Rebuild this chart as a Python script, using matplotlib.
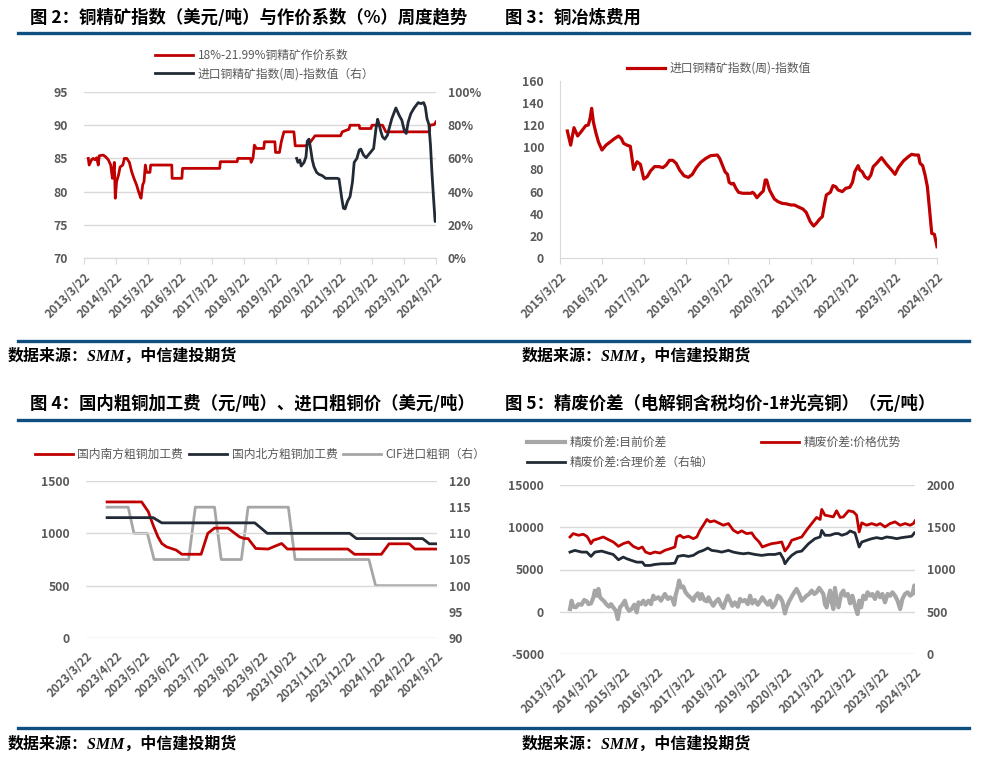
import matplotlib

matplotlib.use("Agg")
import matplotlib.pyplot as plt
import pandas as pd
from matplotlib.lines import Line2D

plt.rcParams["font.family"] = ["Noto Sans CJK SC", "DejaVu Sans"]
plt.rcParams["axes.unicode_minus"] = False

W, H = 994, 766
RED = "#C00000"
NAVY = "#222A35"
GRAY = "#A6A6A6"
GRID = "#D9D9D9"
TICK = "#595959"
RULE = "#0E4F80"

# ---- 图2: 作价系数 (left) / 进口铜精矿指数 (right, %) ----
coef_dates = ["2013-05-10", "2013-05-20", "2013-06-17", "2013-07-05", "2013-07-24", "2013-08-14",
              "2013-09-01", "2013-09-12", "2013-10-28", "2013-11-27", "2013-12-24", "2014-01-21",
              "2014-02-09", "2014-02-20", "2014-03-03", "2014-03-14", "2014-03-29", "2014-04-20",
              "2014-05-08", "2014-06-08", "2014-06-26", "2014-07-23", "2014-08-22", "2014-09-17",
              "2014-10-13", "2014-11-12", "2014-12-12", "2015-01-02", "2015-01-21", "2015-02-05",
              "2015-02-20", "2015-03-07", "2015-04-14", "2015-04-22", "2015-12-19", "2015-12-23",
              "2016-04-12", "2016-04-20", "2017-06-18", "2017-06-25", "2018-01-03", "2018-01-11",
              "2018-06-04", "2018-06-12", "2018-07-04", "2018-07-19", "2018-08-11", "2018-11-03",
              "2018-11-11", "2019-03-10", "2019-03-17", "2019-05-01", "2019-05-22", "2019-06-21",
              "2019-10-13", "2019-10-28", "2020-02-24", "2020-04-20", "2020-06-10", "2021-03-28",
              "2021-04-17", "2021-07-03", "2021-07-15", "2021-10-27", "2021-11-03", "2022-03-11",
              "2022-03-22", "2022-07-20", "2022-08-28", "2024-01-05", "2024-01-12", "2024-03-02",
              "2024-03-22"]
coef_vals = [85.0, 84.0, 84.8, 85.0, 84.8, 85.1, 84.0, 85.4, 85.5, 85.2, 84.8, 84.0,
             82.0, 83.0, 84.4, 79.0, 81.5, 82.5, 83.7, 84.0, 85.0, 85.0, 84.4, 83.0,
             82.0, 81.0, 79.7, 79.0, 81.0, 81.5, 84.0, 82.9, 82.9, 84.0, 84.0, 82.0,
             82.0, 83.5, 83.5, 84.5, 84.5, 85.0, 85.0, 84.4, 85.1, 87.0, 86.5, 86.5,
             87.5, 87.5, 85.9, 85.9, 87.5, 89.0, 89.0, 86.9, 86.9, 87.5, 88.4, 88.4,
             89.0, 89.4, 90.0, 90.0, 89.5, 89.5, 90.0, 90.0, 89.0, 89.0, 90.0, 90.1,
             90.5]
ore_dates = ["2019-11-13", "2019-11-28", "2019-12-20", "2020-01-04", "2020-02-06", "2020-02-28",
             "2020-03-14", "2020-04-02", "2020-04-20", "2020-05-10", "2020-05-29", "2020-06-28",
             "2020-07-25", "2020-09-01", "2020-10-09", "2021-02-20", "2021-03-11", "2021-04-11",
             "2021-04-30", "2021-05-19", "2021-06-15", "2021-07-15", "2021-08-12", "2021-08-31",
             "2021-10-01", "2021-10-27", "2021-11-15", "2021-12-16", "2022-01-15", "2022-02-07",
             "2022-03-11", "2022-04-10", "2022-05-07", "2022-05-26", "2022-06-14", "2022-07-03",
             "2022-07-20", "2022-08-16", "2022-09-15", "2022-10-04", "2022-11-04", "2022-12-20",
             "2023-01-26", "2023-02-26", "2023-03-25", "2023-04-17", "2023-05-10", "2023-06-09",
             "2023-07-17", "2023-09-01", "2023-10-01", "2023-11-02", "2023-11-21", "2023-12-10",
             "2024-01-01", "2024-01-19", "2024-02-04", "2024-02-23", "2024-03-12", "2024-03-22"]
ore_vals = [60.0, 57.6, 59.0, 55.4, 57.6, 61.0, 70.4, 71.6, 66.0, 59.0, 55.0, 51.6,
            50.4, 49.6, 48.0, 48.0, 47.6, 36.0, 30.0, 29.6, 34.0, 37.0, 46.0, 57.6,
            60.0, 65.0, 65.6, 62.0, 60.4, 62.0, 64.0, 66.0, 78.0, 83.6, 80.0, 76.0,
            73.0, 71.6, 74.0, 78.0, 84.0, 90.4, 86.0, 83.0, 77.0, 75.0, 82.0, 87.0,
            90.4, 93.6, 93.0, 93.6, 91.0, 84.0, 80.4, 68.0, 52.0, 36.0, 22.0, 23.0]

# ---- 图3: 铜冶炼费用 ----
tc_dates = ["2015-05-25", "2015-06-23", "2015-07-22", "2015-08-23", "2015-09-27", "2015-11-01",
            "2015-11-24", "2015-12-09", "2015-12-23", "2016-01-07", "2016-01-28", "2016-02-20",
            "2016-03-22", "2016-04-26", "2016-06-03", "2016-07-10", "2016-08-14", "2016-09-07",
            "2016-09-27", "2016-10-26", "2016-11-24", "2016-12-23", "2017-01-22", "2017-02-20",
            "2017-03-22", "2017-04-20", "2017-05-19", "2017-06-23", "2017-07-31", "2017-09-04",
            "2017-10-03", "2017-11-01", "2017-11-30", "2017-12-29", "2018-01-28", "2018-03-07",
            "2018-04-14", "2018-05-19", "2018-06-23", "2018-07-31", "2018-09-13", "2018-10-26",
            "2018-12-23", "2019-01-13", "2019-02-05", "2019-02-28", "2019-03-22", "2019-04-05",
            "2019-04-26", "2019-05-13", "2019-06-03", "2019-06-26", "2019-07-31", "2019-10-12",
            "2019-10-26", "2019-11-10", "2019-12-03", "2019-12-29", "2020-01-28", "2020-02-14",
            "2020-02-26", "2020-03-22", "2020-04-14", "2020-05-04", "2020-06-03", "2020-07-10",
            "2020-08-14", "2020-09-27", "2020-10-26", "2020-11-24", "2021-01-07", "2021-02-05",
            "2021-03-13", "2021-04-11", "2021-05-04", "2021-06-03", "2021-06-26", "2021-07-16",
            "2021-07-31", "2021-09-04", "2021-09-27", "2021-10-20", "2021-11-10", "2021-12-17",
            "2022-01-16", "2022-02-20", "2022-03-16", "2022-04-05", "2022-05-04", "2022-05-19",
            "2022-06-09", "2022-07-02", "2022-07-31", "2022-08-23", "2022-09-13", "2022-10-12",
            "2022-11-24", "2023-01-07", "2023-02-20", "2023-03-22", "2023-04-20", "2023-06-03",
            "2023-07-16", "2023-08-14", "2023-09-13", "2023-10-12", "2023-10-26", "2023-11-18",
            "2023-12-09", "2023-12-29", "2024-01-16", "2024-02-05", "2024-02-28", "2024-03-13",
            "2024-03-22"]
tc_vals = [114.8, 102.0, 117.8, 110.3, 114.8, 119.6, 120.2, 126.0, 135.3, 123.0, 113.6, 105.0,
           97.6, 102.0, 105.0, 108.0, 110.3, 108.0, 103.6, 102.0, 101.0, 80.0, 87.0, 84.7,
           71.4, 73.5, 78.6, 82.6, 82.6, 81.7, 84.0, 88.3, 88.3, 85.6, 79.5, 74.4,
           72.9, 75.6, 81.7, 86.5, 90.0, 92.5, 93.1, 90.0, 84.0, 78.0, 75.6, 68.4,
           66.9, 67.5, 63.0, 59.4, 58.5, 58.5, 59.4, 58.2, 54.5, 57.5, 60.6, 70.5,
           70.5, 61.5, 57.0, 53.3, 51.0, 49.4, 49.0, 47.9, 47.9, 46.4, 44.3, 41.3,
           32.8, 28.9, 31.3, 35.2, 37.4, 49.4, 57.0, 59.4, 65.4, 64.5, 61.5, 60.0,
           63.0, 63.9, 68.4, 78.0, 83.5, 79.5, 78.0, 73.5, 71.4, 75.0, 82.6, 85.6,
           90.7, 84.7, 79.5, 75.6, 81.7, 87.7, 91.6, 93.7, 93.1, 93.1, 85.6, 83.5,
           75.0, 64.5, 44.9, 22.3, 21.4, 14.8, 10.2]

# ---- 图4: 国内粗铜加工费 / CIF进口粗铜 ----
south_dates = ["2023-04-13", "2023-05-19", "2023-05-26", "2023-05-31", "2023-06-05", "2023-06-09",
               "2023-06-14", "2023-06-21", "2023-06-24", "2023-06-30", "2023-07-20", "2023-07-27",
               "2023-08-03", "2023-08-17", "2023-08-29", "2023-09-03", "2023-09-07", "2023-09-15",
               "2023-09-28", "2023-10-05", "2023-10-12", "2023-10-18", "2023-12-20", "2023-12-27",
               "2024-01-24", "2024-02-01", "2024-02-22", "2024-02-28", "2024-03-22"]
south_vals = [1300, 1300, 1206, 1078, 967, 903, 871, 849, 840, 800, 800, 1000,
              1050, 1050, 967, 950, 950, 855, 850, 877, 903, 850, 850, 800,
              800, 900, 900, 850, 850]
north_dates = ["2023-04-13", "2023-05-31", "2023-06-09", "2023-09-14", "2023-09-27", "2023-12-22",
               "2023-12-29", "2024-03-07", "2024-03-14", "2024-03-22"]
north_vals = [1150, 1150, 1100, 1100, 1000, 1000, 950, 950, 900, 900]
cif_dates = ["2023-04-13", "2023-05-05", "2023-05-11", "2023-05-25", "2023-06-01", "2023-07-07",
             "2023-07-14", "2023-08-03", "2023-08-10", "2023-08-31", "2023-09-07", "2023-10-19",
             "2023-10-26", "2024-01-11", "2024-01-18", "2024-03-22"]
cif_vals = [115, 115, 110, 110, 105, 105, 115, 115, 105, 105, 115, 115,
            105, 105, 100, 100]

# ---- 图5: 精废价差 (decimal years) ----
adv_t = [2013.53, 2013.63, 2013.79, 2013.94, 2014.05, 2014.10, 2014.18, 2014.25, 2014.41, 2014.56,
         2014.72, 2014.87, 2015.03, 2015.18, 2015.34, 2015.49, 2015.65, 2015.77, 2015.87, 2016.01,
         2016.16, 2016.32, 2016.47, 2016.63, 2016.78, 2016.84, 2016.94, 2017.04, 2017.20, 2017.35,
         2017.46, 2017.56, 2017.66, 2017.77, 2017.87, 2018.00, 2018.13, 2018.28, 2018.44, 2018.59,
         2018.73, 2018.85, 2019.00, 2019.16, 2019.26, 2019.39, 2019.49, 2019.62, 2019.78, 2019.93,
         2020.09, 2020.19, 2020.30, 2020.40, 2020.55, 2020.71, 2020.86, 2021.02, 2021.17, 2021.28,
         2021.33, 2021.43, 2021.59, 2021.69, 2021.79, 2021.90, 2022.00, 2022.16, 2022.31, 2022.41,
         2022.49, 2022.57, 2022.72, 2022.88, 2023.03, 2023.14, 2023.29, 2023.45, 2023.60, 2023.76,
         2023.91, 2024.07, 2024.17, 2024.22]
adv_vals = [8850, 9250, 9050, 9170, 8930, 8650, 8060, 8460, 8650, 8850,
            8540, 8260, 7740, 8060, 8260, 7740, 7460, 7660, 7070, 6870,
            7070, 6950, 7270, 7460, 7660, 8850, 9050, 8770, 8930, 8650,
            8850, 9650, 10240, 10920, 10640, 10760, 10520, 10240, 10440, 9650,
            9330, 9570, 9250, 9330, 8770, 8260, 7660, 7860, 8060, 8140,
            8260, 7190, 7740, 8460, 8650, 8850, 9650, 10440, 11160, 10920,
            12110, 11430, 11310, 11230, 11950, 11160, 11230, 11950, 11830, 11430,
            9450, 10520, 10240, 10440, 10240, 10440, 10040, 10440, 10640, 10240,
            10440, 10240, 10440, 10760]
fair_t = [2013.53, 2013.68, 2013.89, 2014.05, 2014.18, 2014.30, 2014.51, 2014.72, 2014.87, 2015.03,
          2015.18, 2015.29, 2015.44, 2015.60, 2015.77, 2015.85, 2016.01, 2016.16, 2016.37, 2016.58,
          2016.78, 2016.87, 2017.04, 2017.20, 2017.35, 2017.51, 2017.66, 2017.80, 2017.92, 2018.08,
          2018.23, 2018.44, 2018.59, 2018.75, 2018.90, 2019.06, 2019.26, 2019.47, 2019.68, 2019.88,
          2020.04, 2020.14, 2020.19, 2020.30, 2020.40, 2020.55, 2020.71, 2020.92, 2021.12, 2021.28,
          2021.33, 2021.43, 2021.59, 2021.74, 2021.85, 2021.95, 2022.11, 2022.21, 2022.36, 2022.49,
          2022.57, 2022.72, 2022.88, 2023.03, 2023.19, 2023.34, 2023.50, 2023.65, 2023.81, 2023.96,
          2024.12, 2024.20]
fair_vals = [1206, 1226, 1206, 1206, 1155, 1206, 1218, 1194, 1178, 1115,
             1147, 1127, 1107, 1087, 1087, 1048, 1048, 1060, 1068, 1068,
             1075, 1155, 1167, 1155, 1167, 1206, 1226, 1254, 1226, 1218,
             1206, 1226, 1206, 1194, 1186, 1194, 1178, 1167, 1178, 1178,
             1194, 1127, 1068, 1127, 1167, 1206, 1218, 1305, 1365, 1385,
             1464, 1405, 1405, 1425, 1425, 1405, 1425, 1456, 1433, 1266,
             1325, 1345, 1365, 1377, 1365, 1385, 1377, 1365, 1377, 1385,
             1393, 1433]
cur_t = [2013.53, 2013.58, 2013.63, 2013.71, 2013.79, 2013.89, 2013.97, 2014.05, 2014.10, 2014.18,
         2014.25, 2014.30, 2014.36, 2014.41, 2014.46, 2014.51, 2014.59, 2014.67, 2014.74, 2014.80,
         2014.87, 2014.95, 2015.01, 2015.08, 2015.15, 2015.23, 2015.29, 2015.36, 2015.44, 2015.52,
         2015.60, 2015.65, 2015.73, 2015.80, 2015.87, 2015.96, 2016.04, 2016.11, 2016.16, 2016.27,
         2016.35, 2016.42, 2016.47, 2016.56, 2016.63, 2016.70, 2016.76, 2016.80, 2016.87, 2016.91,
         2016.97, 2017.04, 2017.11, 2017.20, 2017.28, 2017.35, 2017.40, 2017.49, 2017.56, 2017.61,
         2017.69, 2017.77, 2017.82, 2017.90, 2017.97, 2018.05, 2018.13, 2018.21, 2018.28, 2018.35,
         2018.42, 2018.49, 2018.56, 2018.64, 2018.73, 2018.80, 2018.87, 2018.95, 2019.04, 2019.11,
         2019.18, 2019.26, 2019.35, 2019.42, 2019.49, 2019.57, 2019.66, 2019.73, 2019.80, 2019.88,
         2019.97, 2020.04, 2020.11, 2020.19, 2020.24, 2020.32, 2020.40, 2020.48, 2020.55, 2020.63,
         2020.71, 2020.79, 2020.86, 2020.94, 2021.02, 2021.10, 2021.17, 2021.25, 2021.31, 2021.38,
         2021.43, 2021.48, 2021.53, 2021.59, 2021.64, 2021.69, 2021.74, 2021.79, 2021.85, 2021.93,
         2022.00, 2022.05, 2022.14, 2022.21, 2022.28, 2022.36, 2022.44, 2022.49, 2022.55, 2022.62,
         2022.69, 2022.75, 2022.83, 2022.90, 2022.98, 2023.06, 2023.14, 2023.21, 2023.29, 2023.37,
         2023.45, 2023.52, 2023.60, 2023.68, 2023.76, 2023.83, 2023.91, 2023.99, 2024.07, 2024.14,
         2024.20, 2024.22]
cur_vals = [320, 1310, 600, 520, 900, 830, 1390, 1230, 900, 990,
            1630, 2500, 1900, 2700, 1710, 1510, 1230, 830, 600, 900,
            520, 120, -870, 520, 830, 1310, 520, 120, 320, 830,
            -80, 1110, 900, 1310, 830, 1310, 900, 1900, 1510, 1710,
            1310, 1790, 2100, 1510, 1710, 1510, 830, 1900, 2900, 3690,
            2900, 2980, 2300, 1900, 1630, 1310, 1790, 2180, 1510, 2100,
            1390, 1230, 1710, 1110, 710, 1230, 1510, 830, 440, 1230,
            1900, 1310, 710, 1110, 600, 1510, 1230, 1390, 900, 1900,
            990, 1390, 830, 1230, 1710, 1230, 830, 1310, 520, 900,
            1900, 1710, 1230, -200, 520, 1230, 1790, 2300, 2700, 2100,
            1310, 1630, 1900, 2100, 2500, 2100, 2300, 2820, 2500, 2100,
            900, 520, 1510, 2500, 1110, 320, 2820, 1390, 520, 2100,
            2500, 1900, 2100, 990, 1900, 710, -280, 1310, 520, 1900,
            1510, 2300, 1900, 2100, 1510, 2300, 1710, 2100, 1110, 2100,
            1900, 2300, 1900, 1310, 320, 1510, 2100, 2300, 1900, 2100,
            3100, 2300]

year_ticks = list(range(2013, 2025))
year_ticks_p2 = list(range(2015, 2025))
month_ticks = pd.date_range("2023-03-01", "2024-03-01", freq="MS") + pd.Timedelta(days=21)


def px_axes(fig, x0, y0, x1, y1):
    return fig.add_axes([x0 / W, 1 - y1 / H, (x1 - x0) / W, (y1 - y0) / H])


def style_y(ax, ylim, ticks, labels=None, pad=11.5, grid=False):
    ax.set_ylim(*ylim)
    ax.set_yticks(ticks)
    if labels is not None:
        ax.set_yticklabels(labels)
    for s in ax.spines.values():
        s.set_visible(False)
    if grid:
        ax.grid(axis="y", color=GRID, lw=1)
        ax.set_axisbelow(True)
    ax.tick_params(axis="y", length=0, pad=pad, labelsize=8.8, labelcolor=TICK)
    for t in ax.get_yticklabels():
        t.set_fontweight("bold")


def style_x(ax, ticks, labels, ticklen=0):
    ax.set_xticks(ticks)
    ax.set_xticklabels(labels, rotation=45, ha="right", va="top", rotation_mode="anchor",
                       fontsize=8.5, color=TICK, fontweight="bold")
    ax.tick_params(axis="x", length=ticklen, color=GRID, pad=5 if ticklen else 8)


def date_label(d):
    return f"{d.year}/{d.month}/{d.day}"


def add_legend(ax, handles, labels, x, y, **kw):
    ax.legend(handles, labels, loc="upper left", bbox_to_anchor=(x / W, 1 - y / H),
              bbox_transform=fig.transFigure, frameon=False, borderpad=0, borderaxespad=0,
              handlelength=3.2, handletextpad=0.4, prop={"size": 8.5}, labelcolor=TICK, **kw)


fig = plt.figure(figsize=(W / 100, H / 100), dpi=100)

# rules, titles, sources
for yy in (33, 341, 420, 728):
    fig.add_artist(Line2D([18 / W, 969 / W], [1 - yy / H] * 2, color=RULE, lw=2.4))
titles = [(30, 18, "图 2：铜精矿指数（美元/吨）与作价系数（%）周度趋势"),
          (505, 18, "图 3：铜冶炼费用"),
          (30, 404, "图 4：国内粗铜加工费（元/吨）、进口粗铜价（美元/吨）"),
          (505, 404, "图 5：精废价差（电解铜含税均价-1#光亮铜）（元/吨）")]
for x, y, s in titles:
    fig.text(x / W, 1 - y / H, s, fontsize=12.5, fontweight="bold", va="center", ha="left")
for x, y in [(8, 357), (522, 357), (8, 745), (522, 745)]:
    fig.text(x / W, 1 - y / H, "数据来源：SMM，中信建投期货", fontsize=11.5, fontweight="bold",
             style="italic", va="center", ha="left",
             family=["Liberation Serif", "Noto Sans CJK SC"])

# ---- panel 图2 ----
ax1 = px_axes(fig, 84, 92, 436, 258)
ax1r = ax1.twinx()
l1, = ax1.plot(pd.to_datetime(coef_dates), coef_vals, color=RED, lw=2.0)
l2, = ax1r.plot(pd.to_datetime(ore_dates), ore_vals, color=NAVY, lw=2.0)
style_y(ax1, (70, 95), range(70, 96, 5), pad=11.5, grid=True)
style_y(ax1r, (0, 100), range(0, 101, 20), [f"{v}%" for v in range(0, 101, 20)], pad=8.5)
ax1.spines["bottom"].set_visible(True)
ax1.spines["bottom"].set_color(GRID)
d1 = [pd.Timestamp(y, 3, 22) for y in year_ticks]
ax1.set_xlim(d1[0], d1[-1])
style_x(ax1, d1, [date_label(d) for d in d1], ticklen=4)
add_legend(ax1r, [l1, l2], ["18%-21.99%铜精矿作价系数", "进口铜精矿指数(周)-指数值（右）"], 155, 49,
           labelspacing=0.45)

# ---- panel 图3 ----
ax2 = px_axes(fig, 560, 81, 937, 258)
l3, = ax2.plot(pd.to_datetime(tc_dates), tc_vals, color=RED, lw=2.3)
style_y(ax2, (0, 160), range(0, 161, 20), pad=11.5)
for side in ("left", "bottom"):
    ax2.spines[side].set_visible(True)
    ax2.spines[side].set_color(GRID)
d2 = [pd.Timestamp(y, 3, 22) for y in year_ticks_p2]
ax2.set_xlim(d2[0], d2[-1])
style_x(ax2, d2, [date_label(d) for d in d2], ticklen=4)
add_legend(ax2, [l3], ["进口铜精矿指数(周)-指数值"], 627, 62)

# ---- panel 图4 ----
ax3 = px_axes(fig, 86, 481, 437, 638)
ax3r = ax3.twinx()
l4, = ax3.plot(pd.to_datetime(south_dates), south_vals, color=RED, lw=2.0)
l5, = ax3.plot(pd.to_datetime(north_dates), north_vals, color=NAVY, lw=2.0)
l6, = ax3r.plot(pd.to_datetime(cif_dates), cif_vals, color=GRAY, lw=2.0)
style_y(ax3, (0, 1500), [0, 500, 1000, 1500], pad=11.5, grid=True)
style_y(ax3r, (90, 120), range(90, 121, 5), pad=8.5)
ax3.set_xlim(month_ticks[0], month_ticks[-1])
style_x(ax3, month_ticks, [date_label(d) for d in month_ticks])
ax3r.set_zorder(ax3.get_zorder() - 1)
ax3.patch.set_visible(False)
add_legend(ax3, [l4, l5, l6], ["国内南方粗铜加工费", "国内北方粗铜加工费", "CIF进口粗铜（右）"], 35, 448,
           ncol=3, columnspacing=0.5)

# ---- panel 图5 ----
ax4 = px_axes(fig, 560, 485, 915, 654)
ax4r = ax4.twinx()
l7, = ax4.plot(cur_t, cur_vals, color=GRAY, lw=3.0)
l8, = ax4.plot(adv_t, adv_vals, color=RED, lw=2.0)
l9, = ax4r.plot(fair_t, fair_vals, color=NAVY, lw=2.0)
style_y(ax4, (-5000, 15000), range(-5000, 15001, 5000), pad=11.5, grid=True)
style_y(ax4r, (0, 2000), range(0, 2001, 500), pad=8.5)
xt4 = [y + 0.22 for y in year_ticks]
ax4.set_xlim(xt4[0], xt4[-1])
style_x(ax4, xt4, [f"{y}/3/22" for y in year_ticks])
add_legend(ax4r, [l7, l9, l8], ["精废价差:目前价差", "精废价差:合理价差（右轴）", "精废价差:价格优势"], 527, 436,
           ncol=2, columnspacing=4.0, labelspacing=0.6)

fig.savefig("out.png", dpi=100)
